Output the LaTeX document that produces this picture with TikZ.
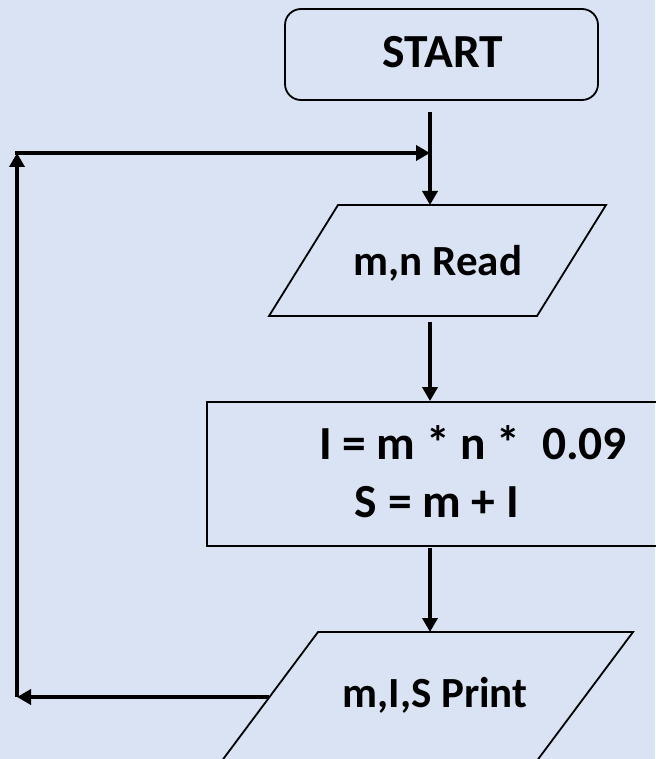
\documentclass[tikz,border=0pt]{standalone}
\usepackage{fontspec}
\setmainfont{Carlito}
\usepackage{tikz}
\usetikzlibrary{arrows.meta, positioning, calc}

\definecolor{bgblue}{HTML}{DAE3F3}

\begin{document}
\begin{tikzpicture}[x=1pt, y=-1pt, >={Triangle[length=14pt, width=15pt]},
    every node/.style={font=\fontsize{43}{50}\selectfont\bfseries},
    bigtext/.style={font=\fontsize{47.5}{55}\selectfont\bfseries},
    shapeline/.style={draw, line width=1.8pt},
    flow/.style={->, line width=4pt}]
    \fill[bgblue] (0,0) rectangle (655,759);
    \useasboundingbox (0,0) rectangle (655,759);

    \node[shapeline, rounded corners=16pt, minimum width=313pt, minimum height=91pt] (startbox) at (441.5,54.5) {};
    \node[bigtext, anchor=base] (start) at (443,68) {START};

    \draw[shapeline] (338,205) -- (606,205) -- (537,316) -- (269,316) -- cycle;
    \node[anchor=base] (read) at (438,275) {m,n Read};

    \node[shapeline, minimum width=520pt, minimum height=144pt] (process) at (467,474) {};
    \node[bigtext, anchor=base] (lineI) at (473,459) {I = m * n *~~0.09};
    \node[bigtext, anchor=base] (lineS) at (437,517) {S = m + I};

    \draw[shapeline] (318,632) -- (633,632) -- (536,762) -- (221,762) -- cycle;
    \node[anchor=base] (print) at (435,707) {m,I,S Print};

    \coordinate (readtop) at (430,205);
    \coordinate (readbot) at (430,316);
    \coordinate (printtop) at (430,632);
    \coordinate (printleft) at (269,697);
    \coordinate (loopin) at (430,153);
    \coordinate (cornerTL) at (17,153);
    \coordinate (cornerBL) at (17,697);

    \draw[flow, shorten <=11pt] (startbox.south -| readtop) -- (readtop);
    \draw[flow, shorten <=6pt] (readbot) -- (readbot |- process.north);
    \draw[flow, shorten <=1pt] (process.south -| printtop) -- (printtop);

    \draw[flow] (printleft) -- (cornerBL);
    \draw[flow] (cornerBL) -- (cornerTL);
    \draw[flow] ([xshift=-2pt]cornerTL) -- (loopin);
\end{tikzpicture}
\end{document}
